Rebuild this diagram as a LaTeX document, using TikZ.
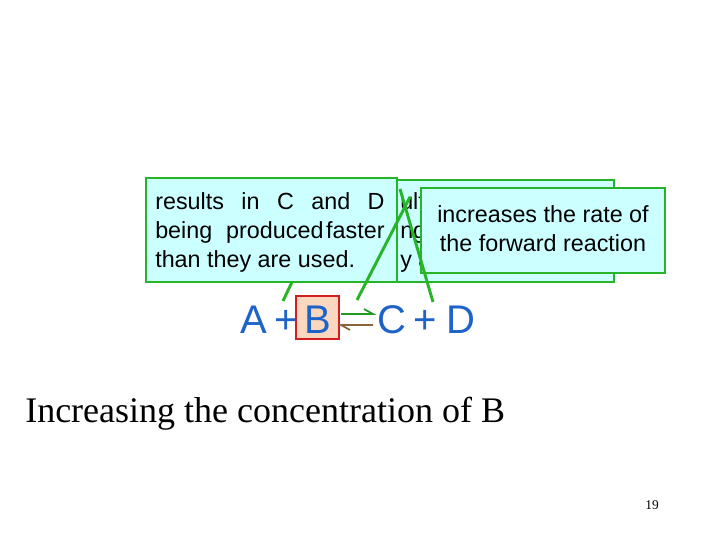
\documentclass[tikz,border=0pt]{standalone}
\usepackage{fontspec}
\setmainfont{Liberation Serif}
\setsansfont{Liberation Sans}
\definecolor{boxfill}{RGB}{204,255,255}
\definecolor{boxline}{RGB}{40,180,40}
\definecolor{eqblue}{RGB}{30,100,200}
\definecolor{bfill}{RGB}{250,215,190}
\definecolor{bline}{RGB}{210,30,30}
\definecolor{brownarr}{RGB}{140,100,60}
\begin{document}
\begin{tikzpicture}[x=0.75pt,y=-0.75pt,
  callout/.style={draw=boxline,line width=2.2pt,fill=boxfill},
  ptr/.style={draw=boxline,line width=2.2pt},
  boxtext/.style={font=\sffamily\fontsize{17.5}{22}\selectfont,inner sep=0pt},
  eq/.style={font=\sffamily\fontsize{30}{30}\selectfont,text=eqblue,inner sep=0pt}]
\useasboundingbox (0,0) rectangle (720,540);
% box 1
\draw[callout] (146,178) rectangle (397,282);
\node[boxtext,anchor=north west,align=left] (t1) at (155,192)
 {\makebox[172pt][s]{results in C and D}\\
  \makebox[172pt][s]{being produced\hspace{2pt}faster}\\
  than they are used.};
% box 2
\draw[callout] (397,180) rectangle (614,282);
\node[boxtext,anchor=north west,align=left] (t2) at (400,192) {ult\\ng\\y a};
% box 3
\draw[callout] (421,188) rectangle (665,273);
\node[boxtext,anchor=north,align=center] (t3) at (543,205) {increases the rate of\\the forward reaction};
% equation
\node[eq,anchor=base] (A) at (254,333) {A};
\node[eq,anchor=base] (p1) at (286,333) {+};
\draw[draw=bline,line width=2pt,fill=bfill] (296,296) rectangle (339,339);
\node[eq,anchor=base] (B) at (317.5,333) {B};
\node[eq,anchor=base] (C) at (392,333) {C};
\node[eq,anchor=base] (p2) at (425,333) {+};
\node[eq,anchor=base] (D) at (461,333) {D};
\coordinate (f1) at (341,314); \coordinate (f2) at (373,314);
\coordinate (r1) at (373,325); \coordinate (r2) at (341,325);
\draw[boxline!85!black,line width=1.3pt] (f1) -- (f2) -- ++(-9,-5);
\draw[brownarr,line width=1.3pt] (r1) -- (r2) -- ++(9,5);
% pointers
\coordinate (q1) at (292,282); \coordinate (q1e) at (283,301);
\draw[ptr] (q1) -- (q1e);
\coordinate (q2) at (410,197); \coordinate (q2e) at (357,300);
\draw[ptr] (q2) -- (q2e);
\coordinate (q3) at (400,189); \coordinate (q3e) at (433,302);
\draw[ptr] (q3) -- (q3e);
% title
\node[font=\fontsize{27}{30}\selectfont,anchor=base west,inner sep=0pt] (title) at (25,422) {Increasing the concentration of B};
\node[font=\fontsize{10}{12}\selectfont,anchor=base east,inner sep=0pt] (pg) at (659,509) {19};
\end{tikzpicture}
\end{document}
